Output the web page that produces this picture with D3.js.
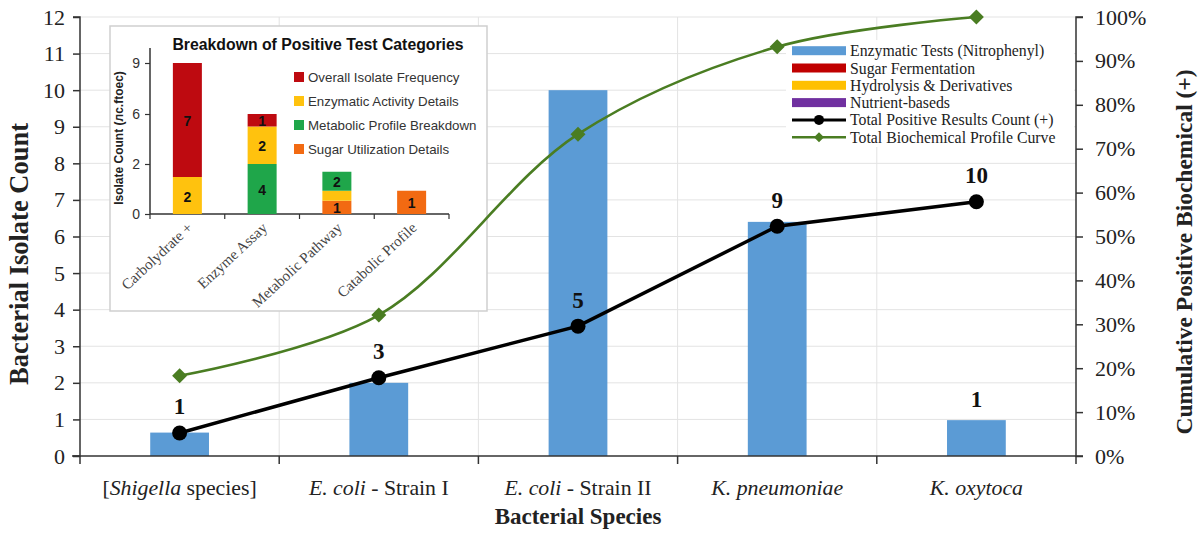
<!DOCTYPE html>
<html><head><meta charset="utf-8">
<script src="https://cdn.jsdelivr.net/npm/d3@7"></script>
<style>body{margin:0;background:#fff}svg{display:block}</style>
</head><body>
<svg id="c" width="1200" height="534"></svg>
<script>
// ---------- data ----------
const categories = ["Shigella", "E. coli I", "E. coli II", "K. pneumoniae", "K. oxytoca"];
const categoryLabelParts = [
  [["[", false], ["Shigella", true], [" species]", false]],
  [["E. coli", true], [" - Strain I", false]],
  [["E. coli", true], [" - Strain II", false]],
  [["K. pneumoniae", true]],
  [["K. oxytoca", true]]
];
const barValues = [0.64, 2.0, 10.0, 6.4, 0.98];
const barLabels = ["", "", "", "", "1"];
const countValues = [0.63, 2.14, 3.55, 6.28, 6.95];
const countLabels = ["1", "3", "5", "9", "10"];
const curvePct = [0.183, 0.321, 0.733, 0.932, 1.0];
const leftTicks = [0,1,2,3,4,5,6,7,8,9,10,11,12];
const rightTicks = [0,0.1,0.2,0.3,0.4,0.5,0.6,0.7,0.8,0.9,1.0];

const legendItems = [
  {name: "Enzymatic Tests (Nitrophenyl)", type: "box", color: "#5B9BD5"},
  {name: "Sugar Fermentation", type: "box", color: "#C00000"},
  {name: "Hydrolysis & Derivatives", type: "box", color: "#FFC000"},
  {name: "Nutrient-baseds", type: "box", color: "#7030A0"},
  {name: "Total Positive Results Count (+)", type: "circle", color: "#000000"},
  {name: "Total Biochemical Profile Curve", type: "diamond", color: "#4A7D22"}
];

// inset data
const insetCategories = ["Carbolydrate +", "Enzyme Assay", "Metabolic Pathway", "Catabolic Profile"];
const insetSeries = ["Overall Isolate Frequency", "Enzymatic Activity Details", "Metabolic Profile Breakdown", "Sugar Utilization Details"];
const insetColors = ["#BE0A10", "#FFC20E", "#1FA64A", "#F26A12"];
const insetTickValues = [0, 2, 6, 9];
// stack order (series index, bottom-up) per category, heights and labels
const insetOrder = [[1, 0], [2, 1, 0], [3, 1, 2], [3]];
const insetHeights = [[1.48, 7.52], [2, 3, 1], [0.53, 0.4, 0.76], [0.93]];
const insetSegLabels = [["2", "7"], ["4", "2", "1"], ["1", "", "2"], ["1"]];

// ---------- chart ----------
const svg = d3.select("#c");
const serif = "'Liberation Serif','Times New Roman',serif";
const sans = "'Liberation Sans',Arial,sans-serif";

const L = 80, R = 1076, T = 17, B = 456;
const x = d3.scaleBand().domain(categories).range([L, R]);
const y = d3.scaleLinear().domain([0, 12]).range([B, T]);
const yR = d3.scaleLinear().domain([0, 1]).range([B, T]);

// gridlines
svg.append("g").selectAll("line").data(leftTicks.slice(1)).join("line")
  .attr("x1", L).attr("x2", R).attr("y1", d => y(d)).attr("y2", d => y(d))
  .attr("stroke", "#e3e3e3").attr("stroke-width", 1);
svg.append("g").selectAll("line").data(categories.slice(1)).join("line")
  .attr("x1", d => x(d)).attr("x2", d => x(d)).attr("y1", T).attr("y2", B)
  .attr("stroke", "#e3e3e3").attr("stroke-width", 1);

// bars
const bw = x.bandwidth() * 0.295;
svg.append("g").selectAll("rect").data(categories).join("rect")
  .attr("x", d => x(d) + x.bandwidth() / 2 - bw / 2)
  .attr("width", bw)
  .attr("y", (d, i) => y(barValues[i]))
  .attr("height", (d, i) => B - y(barValues[i]))
  .attr("fill", "#5B9BD5");

// axes
const axisColor = "#333";
const gl = svg.append("g").attr("transform", `translate(${L},0)`)
  .call(d3.axisLeft(y).tickValues(leftTicks).tickSize(7).tickPadding(8).tickFormat(d3.format("d")));
const gr = svg.append("g").attr("transform", `translate(${R},0)`)
  .call(d3.axisRight(yR).tickValues(rightTicks).tickSize(7).tickPadding(12).tickFormat(d3.format(".0%")));
const gx = svg.append("g").attr("transform", `translate(0,${B})`)
  .call(d3.axisBottom(x).tickSize(0).tickFormat(""));
[gl, gr, gx].forEach(g => {
  g.select(".domain").attr("stroke", axisColor).attr("stroke-width", 1.5);
  g.selectAll(".tick line").attr("stroke", axisColor).attr("stroke-width", 1.5);
  g.selectAll(".tick text").attr("fill", "#222").attr("font-family", serif).attr("font-size", 22);
});
gl.select(".domain").attr("d", `M-7,${T}H0V${B}H-7`);
gr.select(".domain").attr("d", `M7,${T}H0V${B}H7`);
gx.select(".domain").attr("d", `M${L - 8},0H${R}`);
// category boundary ticks
svg.append("g").selectAll("line").data(categories.concat(["_end"])).join("line")
  .attr("x1", (d, i) => i < categories.length ? x(d) : R)
  .attr("x2", (d, i) => i < categories.length ? x(d) : R)
  .attr("y1", B).attr("y2", B + 8)
  .attr("stroke", axisColor).attr("stroke-width", 1.5);

// category labels
const cl = svg.append("g").selectAll("text").data(categories).join("text")
  .attr("x", d => x(d) + x.bandwidth() / 2).attr("y", 495)
  .attr("text-anchor", "middle").attr("font-family", serif).attr("font-size", 21.8).attr("fill", "#222");
cl.each(function(d, i) {
  d3.select(this).selectAll("tspan").data(categoryLabelParts[i]).join("tspan")
    .text(p => p[0]).attr("font-style", p => p[1] ? "italic" : "normal");
});

// axis titles
svg.append("text").attr("x", (L + R) / 2).attr("y", 524).attr("text-anchor", "middle")
  .attr("font-family", serif).attr("font-weight", "bold").attr("font-size", 23).attr("fill", "#222")
  .text("Bacterial Species");
svg.append("text").attr("transform", "translate(28,254) rotate(-90)").attr("text-anchor", "middle")
  .attr("font-family", serif).attr("font-weight", "bold").attr("font-size", 26.5).attr("fill", "#222")
  .text("Bacterial Isolate Count");
svg.append("text").attr("transform", "translate(1192,252) rotate(-90)").attr("text-anchor", "middle")
  .attr("font-family", serif).attr("font-weight", "bold").attr("font-size", 23.5).attr("fill", "#222")
  .text("Cumulative Positive Biochemical (+)");

const cx = d => x(d) + x.bandwidth() / 2;
const green = "#4A7D22";
const diamond = (s) => `M0,${-s}L${s},0L0,${s}L${-s},0Z`;

// black line
svg.append("path").datum(categories)
  .attr("d", d3.line().x(cx).y((d, i) => y(countValues[i])))
  .attr("fill", "none").attr("stroke", "#000").attr("stroke-width", 3.5);
svg.append("g").selectAll("circle").data(categories).join("circle")
  .attr("cx", cx).attr("cy", (d, i) => y(countValues[i])).attr("r", 7.5).attr("fill", "#000");
svg.append("g").selectAll("text").data(categories).join("text")
  .attr("x", cx).attr("y", (d, i) => y(countValues[i]) - 26)
  .attr("dominant-baseline", "central").attr("text-anchor", "middle")
  .attr("font-family", serif).attr("font-weight", "bold").attr("font-size", 23).attr("fill", "#111")
  .text((d, i) => countLabels[i]);
svg.append("g").selectAll("text").data(categories).join("text")
  .attr("x", cx).attr("y", (d, i) => y(barValues[i]) - 21)
  .attr("dominant-baseline", "central").attr("text-anchor", "middle")
  .attr("font-family", serif).attr("font-weight", "bold").attr("font-size", 23).attr("fill", "#111")
  .text((d, i) => barLabels[i]);

// main legend
const lg = svg.append("g");
lg.append("rect").attr("x", 786).attr("y", 40).attr("width", 288).attr("height", 107).attr("fill", "#fff");
const lrow = lg.selectAll("g").data(legendItems).join("g")
  .attr("transform", (d, i) => `translate(792,${50.7 + i * 17.3})`);
lrow.filter(d => d.type === "box").append("rect")
  .attr("x", 0).attr("y", -4.5).attr("width", 54).attr("height", 9).attr("fill", d => d.color);
lrow.filter(d => d.type !== "box").append("line")
  .attr("x1", 0).attr("x2", 54).attr("y1", 0).attr("y2", 0)
  .attr("stroke", d => d.color).attr("stroke-width", d => d.type === "circle" ? 3 : 2.5);
lrow.filter(d => d.type === "circle").append("circle").attr("cx", 27).attr("r", 5).attr("fill", "#000");
lrow.filter(d => d.type === "diamond").append("path").attr("transform", "translate(27,0)")
  .attr("d", diamond(5)).attr("fill", green);
lrow.append("text").attr("x", 58).attr("y", 0).attr("dominant-baseline", "central")
  .attr("font-family", serif).attr("font-size", 15.8).attr("fill", "#222").text(d => d.name);

// ---------- inset ----------
const ins = svg.append("g");
ins.append("rect").attr("x", 110).attr("y", 26).attr("width", 377).attr("height", 285)
  .attr("fill", "#fff").attr("stroke", "#cfcfcf").attr("stroke-width", 1.5);
ins.append("text").attr("x", 318).attr("y", 44).attr("text-anchor", "middle").attr("dominant-baseline", "central")
  .attr("font-family", sans).attr("font-weight", "bold").attr("font-size", 15.8).attr("fill", "#111")
  .text("Breakdown of Positive Test Categories");

const ix = d3.scaleBand().domain(insetCategories).range([150, 449]);
const iy = d3.scaleLinear().domain(insetTickValues).range([214, 164, 114, 63]);
const ibw = 29;

const iya = ins.append("g").attr("transform", "translate(150,0)")
  .call(d3.axisLeft(iy).tickValues(insetTickValues).tickSize(5).tickPadding(5).tickFormat(d3.format("d")));
iya.select(".domain").attr("d", "M0,48V214").attr("stroke", "#333").attr("stroke-width", 1.5);
iya.selectAll(".tick line").attr("stroke", "#333").attr("stroke-width", 1.2);
iya.selectAll(".tick text").attr("font-family", sans).attr("font-size", 14).attr("fill", "#333");

const ixa = ins.append("g").attr("transform", "translate(0,214)")
  .call(d3.axisBottom(ix).tickSize(0).tickFormat(""));
ixa.select(".domain").attr("d", "M150,0H449").attr("stroke", "#333").attr("stroke-width", 1.5);
ins.append("g").selectAll("line").data(insetCategories.concat(["_end"])).join("line")
  .attr("x1", (d, i) => i < insetCategories.length ? ix(d) : 449)
  .attr("x2", (d, i) => i < insetCategories.length ? ix(d) : 449)
  .attr("y1", 214).attr("y2", 219).attr("stroke", "#333").attr("stroke-width", 1.2);

ins.append("g").selectAll("text").data(insetCategories).join("text")
  .attr("transform", d => `translate(${ix(d) + ix.bandwidth() / 2 + 6},229) rotate(-43)`)
  .attr("text-anchor", "end").attr("font-family", serif).attr("font-size", 15).attr("fill", "#444")
  .text(d => d);

ins.append("text").attr("transform", "translate(119,138) rotate(-90)").attr("text-anchor", "middle")
  .attr("dominant-baseline", "central")
  .attr("font-family", sans).attr("font-weight", "bold").attr("font-size", 12).attr("fill", "#222")
  .text("Isolate Count (лc.ftoec)");

insetCategories.forEach((cat, ci) => {
  let base = 0;
  insetOrder[ci].forEach((si, k) => {
    const h = insetHeights[ci][k];
    const y0 = iy(base), y1 = iy(base + h);
    ins.append("rect").attr("x", ix(cat) + ix.bandwidth() / 2 - ibw / 2).attr("width", ibw)
      .attr("y", y1).attr("height", y0 - y1).attr("fill", insetColors[si]);
    const lab = insetSegLabels[ci][k];
    if (lab) {
      ins.append("text").attr("x", ix(cat) + ix.bandwidth() / 2).attr("y", (y0 + y1) / 2 + 1)
        .attr("text-anchor", "middle").attr("dominant-baseline", "central")
        .attr("font-family", sans).attr("font-weight", "bold").attr("font-size", 14).attr("fill", "#111")
        .text(lab);
    }
    base += h;
  });
});

const il = ins.append("g").selectAll("g").data(insetSeries).join("g")
  .attr("transform", (d, i) => `translate(294,${77 + i * 24})`);
il.append("rect").attr("x", 0).attr("y", -5).attr("width", 10).attr("height", 10).attr("fill", (d, i) => insetColors[i]);
il.append("text").attr("x", 14).attr("y", 0).attr("dominant-baseline", "central")
  .attr("font-family", sans).attr("font-size", 13.3).attr("fill", "#333").text(d => d);

// green smooth curve (drawn above the inset, as in the reference)
svg.append("path").datum(categories)
  .attr("d", d3.line().x(cx).y((d, i) => yR(curvePct[i])).curve(d3.curveCatmullRom.alpha(0.5)))
  .attr("fill", "none").attr("stroke", green).attr("stroke-width", 2.6);
svg.append("g").selectAll("path").data(categories).join("path")
  .attr("transform", (d, i) => `translate(${cx(d)},${yR(curvePct[i])})`)
  .attr("d", diamond(7.5)).attr("fill", green);
</script>
</body></html>
